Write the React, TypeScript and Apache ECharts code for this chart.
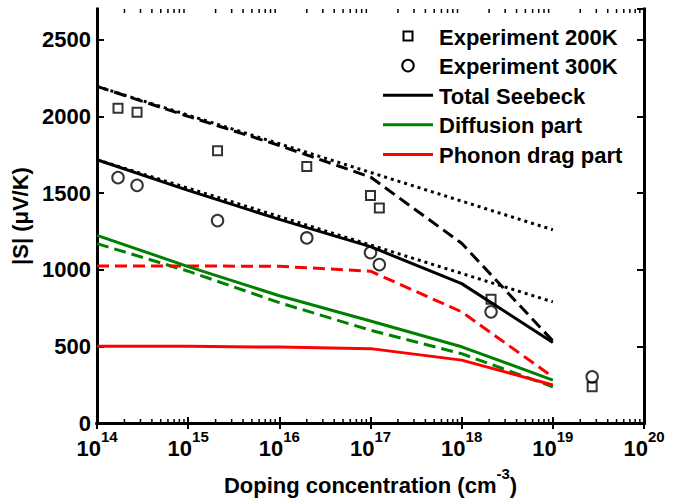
import React, { useEffect, useRef } from 'react';
import * as echarts from 'echarts';

// ---- data ----
const modelX = [1e14, 1e15, 1e16, 1e17, 1e18, 1e19];
const total300 = [1717, 1517, 1328, 1150, 909, 525];
const total200 = [2195, 2000, 1810, 1604, 1172, 535];
const diff300 = [1224, 1020, 830, 665, 497, 280];
const diff200 = [1170, 990, 785, 605, 452, 236];
const drag300 = [500, 500, 495, 485, 410, 248];
const drag200 = [1024, 1024, 1022, 990, 725, 300];
const dottedX = [1e14, 1e19];
const dotted300 = [1717, 790];
const dotted200 = [2195, 1260];
const expX = [1.7e14, 2.75e14, 2.1e15, 2.0e16, 1.0e17, 1.25e17, 2.1e18, 2.7e19];
const exp200 = [2053, 2027, 1775, 1673, 1484, 1402, 807, 236];
const exp300 = [1600, 1550, 1320, 1207, 1111, 1033, 725, 301];
const yMin = 0;
const yMax = 2700;
const yInterval = 500;
const xMin = 1e14;
const xMax = 1e20;
const minorDecades = [14, 15, 16, 17, 18, 19];
const minorMultipliers = [2, 3, 4, 5, 6, 7, 8, 9];
const legendLabels = ['Experiment 200K', 'Experiment 300K', 'Total Seebeck', 'Diffusion part', 'Phonon drag part'];
const xName = 'Doping concentration (cm';
const xNameSup = '-3';
const yName = '|S| (\u03bcV/K)';

const FONT = '"Liberation Sans", Arial, Helvetica, sans-serif';
const GREEN = '#008000';
const RED = '#ff0000';
const BLACK = '#000000';
const DASH = [12, 6];
const DOT = [3, 4];

const zip = (xs: number[], ys: number[]) => xs.map((x, i) => [x, ys[i]]);

const minorTicks: number[] = [];
minorDecades.forEach((d) => minorMultipliers.forEach((m) => minorTicks.push(m * Math.pow(10, d))));

function lineSeries(name: string, xs: number[], ys: number[], color: string, type: any) {
  return {
    name,
    type: 'line',
    data: zip(xs, ys),
    symbol: 'none',
    showSymbol: false,
    silent: true,
    lineStyle: { color, width: 3, type, cap: 'butt' },
  };
}

const supRich = {
  base: { fontSize: 22, fontWeight: 'bold', fontFamily: FONT, color: BLACK, lineHeight: 30, verticalAlign: 'bottom' },
  sup: { fontSize: 15, fontWeight: 'bold', fontFamily: FONT, color: BLACK, verticalAlign: 'top' },
};

export default function App() {
  const ref = useRef<HTMLDivElement>(null);
  useEffect(() => {
    if (!ref.current) return;
    const chart = echarts.init(ref.current, undefined, { renderer: 'svg' });
    const axisLine = { show: true, lineStyle: { color: BLACK, width: 3, cap: 'square' } };
    const rowY = (i: number) => 36 + 29.6 * i;
    const legendText = legendLabels.map((t, i) => ({
      type: 'text',
      x: 439,
      y: rowY(i) + 1,
      style: { text: t, font: `bold 22px ${FONT}`, fill: BLACK, align: 'left', verticalAlign: 'middle' },
    }));
    const option: any = {
      animation: false,
      backgroundColor: '#ffffff',
      grid: { left: 97, right: 36, top: 9, bottom: 79, containLabel: false },
      xAxis: [
        {
          type: 'log',
          logBase: 10,
          min: xMin,
          max: xMax,
          position: 'bottom',
          axisLine,
          axisTick: { show: true, inside: true, length: 6, lineStyle: { color: BLACK, width: 2 } },
          minorTick: { show: false },
          splitLine: { show: false },
          axisLabel: {
            margin: 6,
            fontSize: 22,
            fontWeight: 'bold',
            fontFamily: FONT,
            color: BLACK,
            formatter: (v: number) => `{base|10}{sup|${Math.round(Math.log10(v))}}`,
            rich: supRich,
          },
          name: `{base|${xName}}{sup|${xNameSup}}{base|)}`,
          nameLocation: 'middle',
          nameGap: 43,
          nameTextStyle: { fontSize: 22, fontWeight: 'bold', fontFamily: FONT, color: BLACK, rich: supRich },
        },
        {
          type: 'log',
          logBase: 10,
          min: xMin,
          max: xMax,
          position: 'top',
          axisLine,
          axisTick: { show: true, inside: true, length: 6, lineStyle: { color: BLACK, width: 2 } },
          minorTick: { show: false },
          splitLine: { show: false },
          axisLabel: { show: false },
        },
      ],
      yAxis: [
        {
          type: 'value',
          min: yMin,
          max: yMax,
          interval: yInterval,
          position: 'left',
          axisLine,
          axisTick: { show: true, inside: true, length: 7, lineStyle: { color: BLACK, width: 2 } },
          splitLine: { show: false },
          axisLabel: {
            margin: 6,
            showMaxLabel: false,
            formatter: (v: number) => String(v),
            fontSize: 22,
            fontWeight: 'bold',
            fontFamily: FONT,
            color: BLACK,
          },
          name: yName,
          nameLocation: 'middle',
          nameGap: 63,
          nameTextStyle: { fontSize: 22, fontWeight: 'bold', fontFamily: FONT, color: BLACK },
        },
        {
          type: 'value',
          min: yMin,
          max: yMax,
          interval: yInterval,
          position: 'right',
          axisLine,
          axisTick: { show: true, inside: true, length: 7, lineStyle: { color: BLACK, width: 2 } },
          splitLine: { show: false },
          axisLabel: { show: false },
        },
      ],
      series: [
        lineSeries('dotted200', dottedX, dotted200, BLACK, DOT),
        lineSeries('dotted300', dottedX, dotted300, BLACK, DOT),
        lineSeries('Diffusion 200K', modelX, diff200, GREEN, DASH),
        lineSeries('Phonon drag 200K', modelX, drag200, RED, DASH),
        lineSeries('Total 200K', modelX, total200, BLACK, DASH),
        lineSeries('Diffusion part', modelX, diff300, GREEN, 'solid'),
        lineSeries('Phonon drag part', modelX, drag300, RED, 'solid'),
        lineSeries('Total Seebeck', modelX, total300, BLACK, 'solid'),
        {
          name: 'Experiment 200K',
          type: 'scatter',
          data: zip(expX, exp200),
          symbol: 'rect',
          symbolSize: 9,
          silent: true,
          itemStyle: { color: 'transparent', borderColor: BLACK, borderWidth: 2 },
        },
        {
          name: 'Experiment 300K',
          type: 'scatter',
          data: zip(expX, exp300),
          symbol: 'circle',
          symbolSize: 11.5,
          silent: true,
          itemStyle: { color: 'transparent', borderColor: BLACK, borderWidth: 2 },
        },
        {
          name: 'minor ticks',
          type: 'custom',
          silent: true,
          clip: false,
          data: minorTicks.map((v) => [v, yMin]),
          renderItem: (_p: any, api: any) => {
            const v = api.value(0);
            const b = api.coord([v, yMin]);
            const t = api.coord([v, yMax]);
            return {
              type: 'group',
              children: [
                { type: 'line', shape: { x1: b[0], y1: b[1], x2: b[0], y2: b[1] - 4 }, style: { stroke: BLACK, lineWidth: 1.5 } },
                { type: 'line', shape: { x1: t[0], y1: t[1], x2: t[0], y2: t[1] + 4 }, style: { stroke: BLACK, lineWidth: 1.5 } },
              ],
            };
          },
        },
      ],
      graphic: [
        { type: 'rect', shape: { x: 403.5, y: rowY(0) - 4.5, width: 9, height: 9 }, style: { fill: 'none', stroke: BLACK, lineWidth: 2 } },
        { type: 'circle', shape: { cx: 408, cy: rowY(1), r: 5.75 }, style: { fill: 'none', stroke: BLACK, lineWidth: 2 } },
        { type: 'line', shape: { x1: 383, y1: rowY(2), x2: 433, y2: rowY(2) }, style: { stroke: BLACK, lineWidth: 3 } },
        { type: 'line', shape: { x1: 383, y1: rowY(3), x2: 433, y2: rowY(3) }, style: { stroke: GREEN, lineWidth: 3 } },
        { type: 'line', shape: { x1: 383, y1: rowY(4), x2: 433, y2: rowY(4) }, style: { stroke: RED, lineWidth: 3 } },
        ...legendText,
      ],
    };
    chart.setOption(option);
    return () => chart.dispose();
  }, []);
  return <div ref={ref} style={{ position: 'absolute', left: 0, top: 0, width: 680, height: 502 }} />;
}
